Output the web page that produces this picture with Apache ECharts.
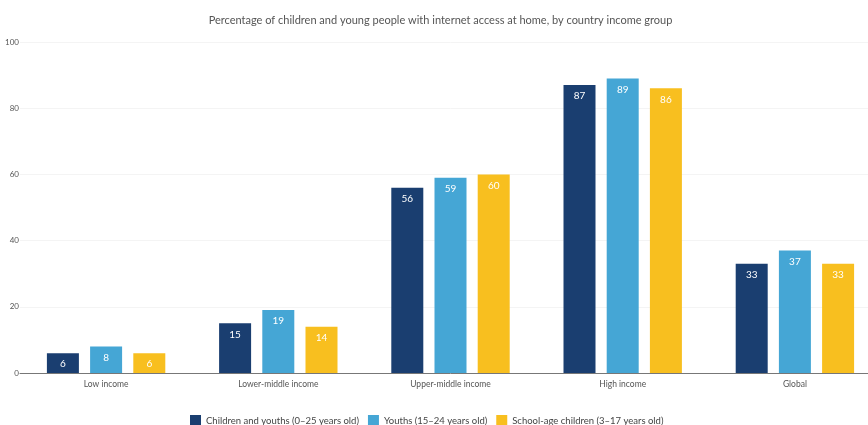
<!DOCTYPE html>
<html>
<head>
<meta charset="utf-8">
<script src="https://cdn.jsdelivr.net/npm/echarts@6/dist/echarts.min.js"></script>
<style>
  html, body { margin: 0; padding: 0; background: #fff; overflow: hidden; }
  #chart { width: 881px; height: 425px; }
</style>
</head>
<body>
<div id="chart"></div>
<script>
// Income groups along the x axis
const categories = ['Low income', 'Lower-middle income', 'Upper-middle income', 'High income', 'Global'];

// Share with internet access at home (%)
const childrenAndYouths = [6, 15, 56, 87, 33];
const youths = [8, 19, 59, 89, 37];
const schoolAgeChildren = [6, 14, 60, 86, 33];

const seriesNames = [
  'Children and youths (0–25 years old)',
  'Youths (15–24 years old)',
  'School-age children (3–17 years old)'
];
const seriesColors = ['#1a3e70', '#45a6d5', '#f8bf1f'];
const yTicks = [0, 20, 40, 60, 80, 100];

const font = 'Lato';

function makeSeries(name, data, color) {
  return {
    name: name,
    type: 'bar',
    data: data,
    barWidth: 32,
    barGap: '35%',
    itemStyle: { color: color },
    label: {
      show: true,
      position: 'insideTop',
      distance: 6,
      color: '#ffffff',
      fontFamily: font,
      fontSize: 10
    }
  };
}

const chart = echarts.init(document.getElementById('chart'), null, { renderer: 'canvas' });
chart.setOption({
  animation: false,
  backgroundColor: '#ffffff',
  textStyle: { fontFamily: font },
  title: {
    text: 'Percentage of children and young people with internet access at home, by country income group',
    left: 'center',
    top: 10,
    textStyle: { fontFamily: font, fontSize: 11, fontWeight: 'normal', color: '#555555' }
  },
  legend: {
    bottom: -6,
    left: 185,
    itemWidth: 11,
    itemHeight: 11,
    itemGap: 9,
    icon: 'rect',
    textStyle: { fontFamily: font, fontSize: 9.5, color: '#444444' },
    data: seriesNames
  },
  grid: { left: 20, right: 0, top: 42, bottom: 52, containLabel: false },
  xAxis: {
    type: 'category',
    data: categories,
    axisLine: { lineStyle: { color: '#777777', width: 1 } },
    axisTick: { alignWithLabel: true, length: 4, lineStyle: { color: '#777777' } },
    axisLabel: { fontFamily: font, fontSize: 8.5, color: '#555555', margin: 7 }
  },
  yAxis: {
    type: 'value',
    min: yTicks[0],
    max: yTicks[yTicks.length - 1],
    interval: 20,
    axisLine: { show: false },
    axisTick: { show: false },
    axisLabel: { fontFamily: font, fontSize: 8, color: '#555555', margin: 1, align: 'right' },
    splitLine: { lineStyle: { color: '#f4f4f4', width: 1 } }
  },
  series: [
    makeSeries(seriesNames[0], childrenAndYouths, seriesColors[0]),
    makeSeries(seriesNames[1], youths, seriesColors[1]),
    makeSeries(seriesNames[2], schoolAgeChildren, seriesColors[2])
  ]
});
</script>
</body>
</html>
